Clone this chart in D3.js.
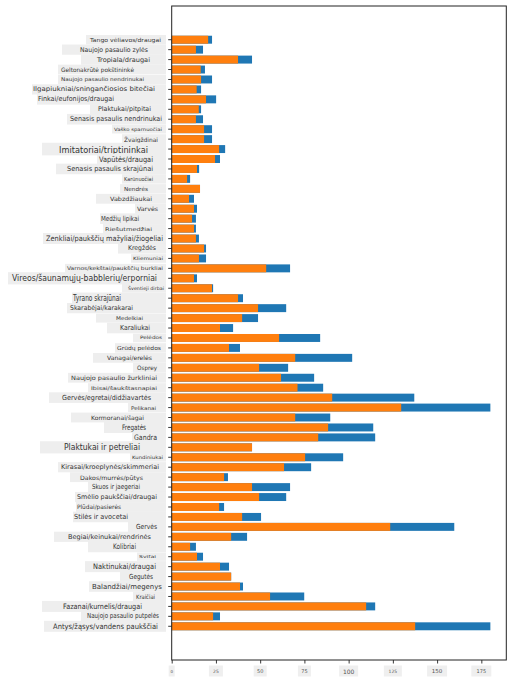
<!DOCTYPE html>
<html><head><meta charset="utf-8">
<script src="https://cdn.jsdelivr.net/npm/d3@7"></script>
<style>body{margin:0;background:#fff} svg{display:block} text{font-family:"DejaVu Sans",sans-serif}</style>
</head><body><svg id="c" width="512" height="683"></svg>
<script>
const categories = [
"Tango vėliavos/draugai","Naujojo pasaulio zylės","Tropiala/draugai","Geltonakrūtė pokštininkė",
"Naujojo pasaulio nendrinukai","Ilgapiukniai/sningančiosios bitečiai","Finkai/eufonijos/draugai","Plaktukai/pitpitai",
"Senasis pasaulis nendrinukai","Vaško sparnuočiai","Žvaigždinai","Imitatoriai/triptininkai",
"Vapūtės/draugai","Senasis pasaulis skrajūnai","Karūnuočiai","Nendrės",
"Vabzdžiaukai","Varvės","Medžių lipikai","Riešutmedžiai",
"Zenkliai/paukščių mažyliai/žiogeliai","Kregždės","Kliemuniai","Varnos/kekštai/paukščių burkliai",
"Vireos/šaunamųjų-babblerių/erporniai","Šventieji dirbai","Tyrano skrajūnai","Skarabėjai/karakarai",
"Medelkiai","Karaliukai","Pelėdos","Grūdų pelėdos",
"Vanagai/erelės","Osprey","Naujojo pasaulio žurkliniai","Ibisai/šaukštasnapiai",
"Gervės/egretai/didžiavartės","Pelikanai","Kormoranai/šagai","Fregatės",
"Gandra","Plaktukai ir petreliai","Kundiniukai","Kirasai/kroeplynės/skimmeriai",
"Dakos/murrės/pūtys","Skuos ir jaegeriai","Smėlio paukščiai/draugai","Plūdai/pasierės",
"Stilės ir avocetai","Gervės ","Begiai/keinukai/rendrinės","Kolibriai",
"Svifai","Naktinukai/draugai","Gegutės","Balandžiai/megenys",
"Kraičiai","Fazanai/kurnelis/draugai","Naujojo pasaulio putpelės","Antys/žąsys/vandens paukščiai"
];
// orange series (minimum length)
const minLength = [
20.6,13.7,37.5,16.4,16.6,14.1,19.4,15.3,13.7,18.3,18.3,26.8,
24.5,14.3,8.7,16.0,9.8,12.6,11.5,12.6,13.7,18.3,15.4,53.4,
12.6,22.8,37.5,48.8,39.8,27.3,60.7,32.4,69.8,49.4,61.8,71.1,
90.7,129.7,69.8,88.4,82.8,45.4,75.4,63.5,29.6,45.4,49.4,26.8,
39.8,123.5,33.6,10.4,14.3,27.3,33.6,38.6,55.6,109.9,23.4,137.6
];
// blue series (maximum length)
const maxLength = [
22.8,17.7,45.4,18.8,22.8,16.6,25.1,16.6,17.7,22.8,22.8,30.2,
27.3,15.5,10.4,16.0,12.6,14.3,13.7,13.7,15.4,19.4,19.4,66.9,
14.3,23.4,40.3,64.7,48.8,34.7,83.9,38.6,102.0,65.8,80.5,85.6,
137.1,180.1,89.6,113.9,115.0,45.4,96.9,78.8,31.8,66.9,64.7,29.6,
50.5,159.7,42.6,13.7,17.7,32.4,33.6,40.3,74.9,115.0,27.3,180.1
];
const xTickValues = [0,25,50,75,100,125,150,175];
const xTickLabels = ["0","25","50","75","100","125","150","175"];

// ---- label styling (layout only) ----
const labelBoxLeft = [86,62,81,58,58,32,37,90,67,112,122,42,97,56,122,120,96,135,100,103,43,118,131,65,
8,122,72,67,96,107,133,115,93,133,68,88,49,128,71,104,132,40,130,58,70,88,75,76,73,128,54,88,137,85,120,89,133,42,81,44];
const labelTextLeft = [90,80,97,61,61,33,38,98,70,114,124,59,99,67,124,124,110,137,101,105,46,128,133,67,
12,128,73,70,116,120,140,117,107,137,71,91,62,131,91,122,134,64,132,61,80,92,77,77,74,136,68,113,139,93,129,92,136,63,87,53];
const labelTextRight = [161,148,150,134,144,155,114,151,162,162,158,148,153,153,153,148,152,158,139,152,163,156,163,163,
157,164,121,133,143,150,162,161,152,157,157,157,151,156,144,146,157,140,163,159,143,140,157,121,128,157,151,136,156,156,153,162,155,142,159,158];
const labelFont = [5.5,6.5,6.5,6,5,6.5,7,6.5,7,4.5,6,9.5,7.5,7,5.5,5.5,6,6,7,5,7.5,6.5,4.5,5,
9,4.5,8,6.5,5,7,4.5,5.5,6,6,6,5,7,5,6,7.5,7.5,9,4.5,6.5,6,7,6.5,6,7,7,6.5,7.5,4,7.5,7,7,6,7.5,7,7.5];
const xLabelHalf = [3,7,6.5,6.5,9.5,9,10,10];
const xLabelFont = [4,4.5,5,5,6,4.5,5.5,5];

const svg = d3.select("#c");
const m = {left:171.7, right:506.3, top:6, bottom:660};
const x = d3.scaleLinear().domain([0, d3.max(maxLength)*1.05]).range([m.left, m.right]);
const y = d3.scaleBand().domain(categories).range([m.top, m.bottom]).paddingInner(0.2).paddingOuter(2.99);
const rows = categories.map((c,i)=>({c, i, mn:minLength[i], mx:maxLength[i]}));

// bars
svg.append("g").selectAll("rect").data(rows).join("rect")
  .attr("x", x(0)).attr("y", d=>y(d.c)).attr("height", y.bandwidth())
  .attr("width", d=>x(d.mx)-x(0)).attr("fill","#1f77b4");
svg.append("g").selectAll("rect").data(rows).join("rect")
  .attr("x", x(0)).attr("y", d=>y(d.c)).attr("height", y.bandwidth())
  .attr("width", d=>x(d.mn)-x(0)).attr("fill","#ff7f0e");

// y axis ticks
const ya = svg.append("g").attr("transform",`translate(${m.left},0)`)
  .call(d3.axisLeft(y).tickSize(3.5).tickFormat(""));
ya.select(".domain").remove();
ya.selectAll(".tick line").attr("stroke","#222").attr("stroke-width",0.9);

// y labels with boxes
const lg = svg.append("g").selectAll("g").data(rows).join("g")
  .attr("transform", d=>`translate(0,${y(d.c)+y.bandwidth()/2})`);
lg.append("rect")
  .attr("x", d=>labelBoxLeft[d.i]).attr("width", d=>166-labelBoxLeft[d.i])
  .attr("y", d=>-(labelFont[d.i]*0.8+5)/2).attr("height", d=>labelFont[d.i]*0.8+5)
  .attr("fill","#eeeeee");
lg.append("text")
  .attr("x", d=>labelTextLeft[d.i]).attr("y", 0)
  .attr("dominant-baseline","central")
  .attr("font-size", d=>labelFont[d.i])
  .attr("textLength", d=>labelTextRight[d.i]-labelTextLeft[d.i])
  .attr("lengthAdjust","spacingAndGlyphs")
  .attr("fill","#333")
  .text(d=>d.c.trim());

// x axis
const xa = svg.append("g").attr("transform",`translate(0,${m.bottom})`)
  .call(d3.axisBottom(x).tickValues(xTickValues).tickSize(3.5).tickFormat(""));
xa.select(".domain").remove();
xa.selectAll(".tick line").attr("stroke","#222").attr("stroke-width",0.9);
const xl = svg.append("g").selectAll("g").data(xTickValues).join("g")
  .attr("transform", d=>`translate(${x(d)},671)`);
xl.append("rect").attr("x",(d,i)=>-xLabelHalf[i]).attr("width",(d,i)=>2*xLabelHalf[i])
  .attr("y",-5.5).attr("height",11).attr("fill","#efefef");
xl.append("text").attr("text-anchor","middle").attr("dominant-baseline","central")
  .attr("font-size",(d,i)=>xLabelFont[i]).attr("fill","#555")
  .text((d,i)=>xTickLabels[i]);

// frame
svg.append("rect").attr("x",m.left).attr("y",m.top)
  .attr("width",m.right-m.left).attr("height",m.bottom-m.top)
  .attr("fill","none").attr("stroke","#222").attr("stroke-width",1);
</script></body></html>
